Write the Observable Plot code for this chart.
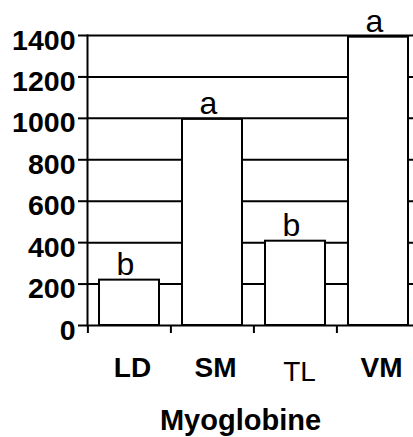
<!DOCTYPE html>
<html>
<head>
<meta charset="utf-8">
<script src="https://cdn.jsdelivr.net/npm/d3@7"></script>
<script src="https://cdn.jsdelivr.net/npm/@observablehq/plot@0.6"></script>
<style>
  html, body { margin: 0; padding: 0; background: white; overflow: hidden; }
</style>
</head>
<body>
<div id="chart"></div>
<script>
const categories = ["LD", "SM", "TL", "VM"];
const values = [219, 995, 407, 1392];
const letters = ["b", "a", "b", "a"];
const yTicks = [0, 200, 400, 600, 800, 1000, 1200, 1400];
const boldLabels = ["LD", "SM", "VM"];
const thinLabels = ["TL"];
const xTitle = ["Myoglobine"];

const data = categories.map((c, i) => ({muscle: c, value: values[i], letter: letters[i]}));

const font = "'Liberation Sans', Arial, sans-serif";

const chart = Plot.plot({
  width: 413,
  height: 437,
  marginTop: 35,
  marginBottom: 112,
  marginLeft: 87,
  marginRight: 0,
  style: {fontFamily: font, color: "black", background: "white", overflow: "hidden"},
  x: {domain: categories, range: [87, 420], paddingInner: 0.28, paddingOuter: 0.14, axis: null},
  y: {domain: [0, 1400], axis: null},
  marks: [
    Plot.ruleY(yTicks, {stroke: "black", strokeWidth: 2}),
    Plot.frame({anchor: "left", stroke: "black", strokeWidth: 2}),
    Plot.axisY(yTicks, {tickSize: 9, text: null, label: null, strokeWidth: 2, stroke: "black"}),
    Plot.axisY(yTicks, {tickSize: 0, tickPadding: 12, label: null, tickFormat: d => String(d), fontSize: 28.5, fontWeight: "bold", fill: "black", dy: 5}),
    Plot.axisX({tickSize: 8, text: null, label: null, dx: -41.6, strokeWidth: 2, stroke: "black"}),
    Plot.barY(data, {x: "muscle", y: "value", fill: "white", stroke: "black", strokeWidth: 2}),
    Plot.text(data, {x: "muscle", y: "value", text: "letter", dx: -4, dy: -5, lineAnchor: "bottom", fontSize: 32, fill: "black"}),
    Plot.text(boldLabels, {x: d => d, text: d => d, frameAnchor: "bottom", lineAnchor: "bottom", dx: 3, dy: 51, fontSize: 28, fontWeight: "bold", fill: "black"}),
    Plot.text(thinLabels, {x: d => d, text: d => d, frameAnchor: "bottom", lineAnchor: "bottom", dx: 4, dy: 55, fontSize: 28, fill: "black"}),
    Plot.text(xTitle, {frameAnchor: "bottom", text: d => d, lineAnchor: "bottom", dx: -10, dy: 104, fontSize: 29, fontWeight: "bold", fill: "black"})
  ]
});

document.getElementById("chart").appendChild(chart);
</script>
</body>
</html>
